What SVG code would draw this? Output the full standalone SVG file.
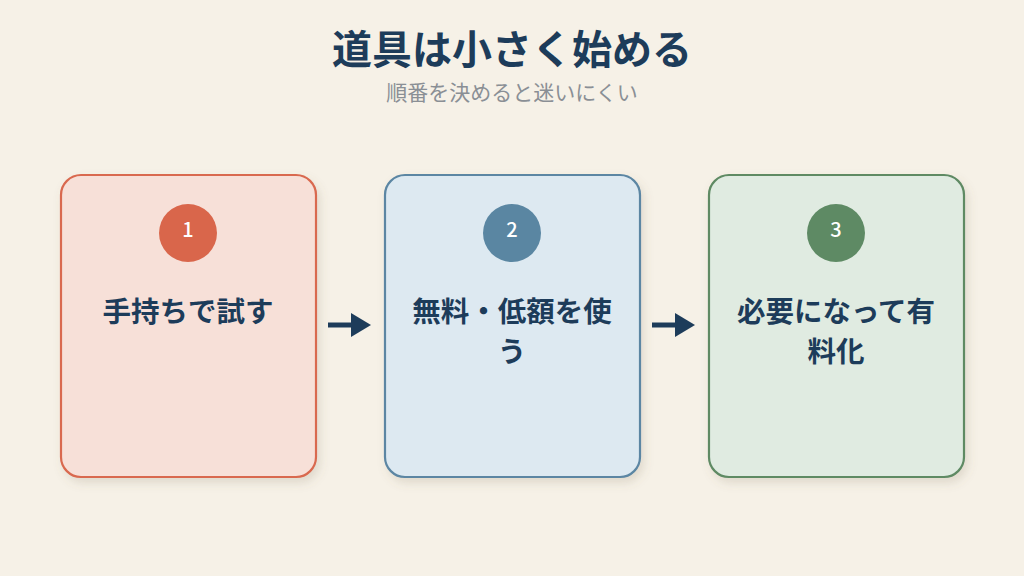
<svg xmlns="http://www.w3.org/2000/svg" width="1024" height="576" viewBox="0 0 1024 576">
<defs>
<filter id="sh" x="-10%" y="-10%" width="130%" height="130%">
<feDropShadow dx="3" dy="5" stdDeviation="5" flood-color="#7a6a50" flood-opacity="0.18"/>
</filter>
<marker id="ah" viewBox="0 0 10 10" refX="0" refY="5" markerWidth="20" markerHeight="24" markerUnits="userSpaceOnUse" orient="auto" preserveAspectRatio="none">
<path d="M0,0 L10,5 L0,10 Z" fill="#1d3c5a"/>
</marker>
<style>
text{font-family:"Noto Sans CJK JP","Noto Sans",sans-serif;text-anchor:middle}
.t{font-size:40px;font-weight:700;fill:#1d3c5a}
.s{font-size:21px;fill:#8a8f95}
.lbl{font-size:28.5px;font-weight:700;fill:#1d3c5a}
.num{font-size:20px;font-weight:500;fill:#ffffff}
.card{stroke-width:2.2;filter:url(#sh)}
.conn{stroke:#1d3c5a;stroke-width:5;fill:none}
</style>
</defs>
<rect width="1024" height="576" fill="#f6f1e7"/>
<text class="t" x="512" y="64">道具は小さく始める</text>
<text class="s" x="512" y="100">順番を決めると迷いにくい</text>
<g id="node1">
<rect class="card" x="61" y="175" width="255" height="302" rx="20" fill="#f7e0d8" stroke="#d9694f"/>
<circle cx="188" cy="233" r="29" fill="#d9664b"/>
<text class="num" x="188" y="237">1</text>
<text class="lbl" x="188" y="322">手持ちで試す</text>
</g>
<g id="node2">
<rect class="card" x="385" y="175" width="255" height="302" rx="20" fill="#dde9f1" stroke="#5b86a3"/>
<circle cx="512" cy="233" r="29" fill="#5a86a2"/>
<text class="num" x="512" y="237">2</text>
<text class="lbl" x="512" y="322">無料・低額を使</text>
<text class="lbl" x="512" y="362">う</text>
</g>
<g id="node3">
<rect class="card" x="709" y="175" width="255" height="302" rx="20" fill="#e0ebe1" stroke="#5e8a64"/>
<circle cx="836" cy="233" r="29" fill="#5e8a64"/>
<text class="num" x="836" y="237">3</text>
<text class="lbl" x="836" y="322">必要になって有</text>
<text class="lbl" x="836" y="362">料化</text>
</g>
<g id="connectors">
<line class="conn" x1="328" y1="325" x2="351" y2="325" marker-end="url(#ah)"/>
<line class="conn" x1="652" y1="325" x2="675" y2="325" marker-end="url(#ah)"/>
</g>
</svg>
